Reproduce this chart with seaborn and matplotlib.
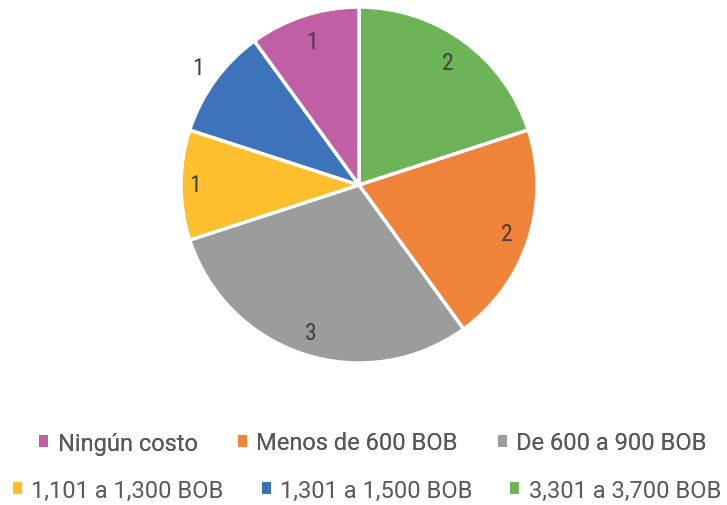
import matplotlib
matplotlib.use("Agg")
import matplotlib.pyplot as plt
import seaborn as sns
import numpy as np
from matplotlib.patches import Patch

sns.set_theme(style="white")
plt.rcParams['font.family'] = ["Roboto Condensed", 'DejaVu Sans']

# Data (clockwise from top)
categories = ["3,301 a 3,700 BOB", "Menos de 600 BOB", "De 600 a 900 BOB",
              "1,101 a 1,300 BOB", "1,301 a 1,500 BOB", "Ningún costo"]
values = [2, 2, 3, 1, 1, 1]
colors = ["#6DB357", "#F0833A", "#9A9D9C", "#FDBF2D", "#3D73BA", "#C05FA4"]
legend_row1 = ["Ningún costo", "Menos de 600 BOB", "De 600 a 900 BOB"]
legend_row2 = ["1,101 a 1,300 BOB", "1,301 a 1,500 BOB", "3,301 a 3,700 BOB"]
label_dist = [0.85, 0.875, 0.87, 0.92, 1.12, 0.85]

W, H = 727, 506
fig = plt.figure(figsize=(W / 100, H / 100), dpi=100)
ax = fig.add_axes([0, 0, 1, 1])

cx, cy, r = 359, H - 186, 178
wedges, _ = ax.pie(values, colors=colors, startangle=90, counterclock=False,
                   center=(cx, cy), radius=r, frame=True,
                   wedgeprops=dict(edgecolor="white", linewidth=2.5))
ax.set_xlim(0, W)
ax.set_ylim(0, H)
ax.set_aspect("equal")
ax.axis("off")

for w, v, d in zip(wedges, values, label_dist):
    ang = np.deg2rad((w.theta1 + w.theta2) / 2)
    ax.text(cx + d * r * np.cos(ang), cy + d * r * np.sin(ang), str(v),
            ha="center", va="center", fontsize=17, color="#404040")

cmap = dict(zip(categories, colors))

def make_handles(names):
    return [Patch(facecolor=cmap[n], edgecolor="none", label=n) for n in names]

common = dict(frameon=False, ncol=3, handlelength=0.38,
              handleheight=0.38, handletextpad=0.4, borderaxespad=0,
              labelcolor="#595959", loc="center",
              prop=dict(family=["Roboto", "DejaVu Sans"], size=17))
leg1 = fig.legend(handles=make_handles(legend_row1), bbox_to_anchor=(373 / W, 1 - 444 / H),
                  columnspacing=1.7, **common)
fig.add_artist(leg1)
leg2 = fig.legend(handles=make_handles(legend_row2), bbox_to_anchor=(367 / W, 1 - 491 / H),
                  columnspacing=1.6, **common)

fig.savefig("out.png", dpi=100)
